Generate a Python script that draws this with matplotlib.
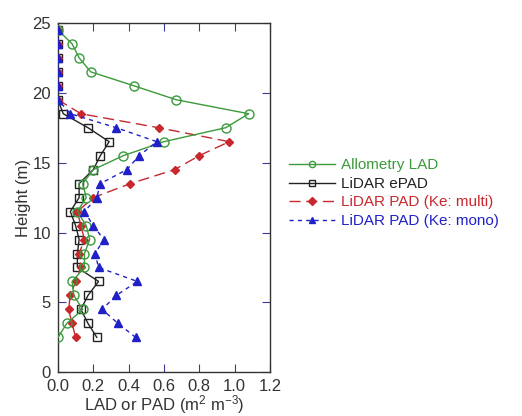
import matplotlib.pyplot as plt
import numpy as np

plt.rcParams['font.family'] = ['Liberation Sans', 'DejaVu Sans']
plt.rcParams['mathtext.fontset'] = 'custom'
plt.rcParams['mathtext.rm'] = 'Liberation Sans'
plt.rcParams['mathtext.it'] = 'Liberation Sans:italic'

height = [2.5, 3.5, 4.5, 5.5, 6.5, 7.5, 8.5, 9.5, 10.5, 11.5, 12.5, 13.5,
          14.5, 15.5, 16.5, 17.5, 18.5, 19.5, 20.5, 21.5, 22.5, 23.5, 24.5]

allometry_lad = [0.0, 0.05, 0.14, 0.09, 0.08, 0.15, 0.15, 0.18, 0.16, 0.11, 0.16, 0.14,
                 0.20, 0.37, 0.60, 0.95, 1.08, 0.67, 0.43, 0.185, 0.12, 0.08, 0.0]
lidar_epad = [0.22, 0.17, 0.13, 0.17, 0.23, 0.11, 0.11, 0.12, 0.10, 0.07, 0.12, 0.12,
              0.20, 0.24, 0.29, 0.17, 0.03, 0.0, 0.0, 0.0, 0.0, 0.0, 0.0]
lidar_pad_multi = [0.10, 0.08, 0.06, 0.07, 0.10, 0.13, 0.12, 0.15, 0.13, 0.11, 0.20, 0.41,
                   0.66, 0.80, 0.97, 0.57, 0.13, 0.0, 0.0, 0.0, 0.0, 0.0, 0.0]
lidar_pad_mono = [0.44, 0.34, 0.25, 0.33, 0.45, 0.23, 0.21, 0.26, 0.20, 0.15, 0.22, 0.24,
                  0.39, 0.46, 0.56, 0.33, 0.07, 0.0, 0.0, 0.0, 0.0, 0.0, 0.0]

green = '#3c9a3c'
red = '#c8282d'
blue = '#2020c8'

fig = plt.figure(figsize=(5.22, 4.16), dpi=100)
ax = fig.add_axes([0.111, 0.105, 0.406, 0.84])

ax.plot(allometry_lad, height, '-', color=green, lw=1.0, marker='o', ms=6.5,
        mfc='none', mec=green, mew=1.0, label='Allometry LAD', zorder=3)
ax.plot(lidar_epad, height, '-', color='#222222', lw=1.0, marker='s', ms=6,
        mfc='none', mec='#222222', mew=1.0, label='LiDAR ePAD', zorder=2)
ax.plot(lidar_pad_multi, height, color=red, lw=1.0, dashes=(8, 4), marker='D',
        ms=4, mfc=red, mec=red, label='LiDAR PAD (Ke: multi)', zorder=2)
ax.plot(lidar_pad_mono, height, color=blue, lw=1.0, dashes=(3, 3), marker='^',
        ms=6, mfc=blue, mec=blue, label='LiDAR PAD (Ke: mono)', zorder=4)

ax.set_xlim(0, 1.2)
ax.set_ylim(0, 25)
ax.set_xticks(np.arange(0, 1.21, 0.2))
ax.set_xticklabels(['0.0', '0.2', '0.4', '0.6', '0.8', '1.0', '1.2'])
ax.set_yticks([0, 5, 10, 15, 20, 25])
ax.tick_params(direction='in', top=True, right=True, length=6, color='#3a3aa0',
               labelsize=12, labelcolor='#333333')
ax.tick_params(axis='x', pad=4.5)
ax.tick_params(axis='y', pad=5)
for s in ax.spines.values():
    s.set_color('#333333')
    s.set_linewidth(1.0)

ax.set_xlabel('LAD or PAD (m$^2$ m$^{-3}$)', fontsize=12, color='#333333', labelpad=0)
ax.set_ylabel('Height (m)', fontsize=12, color='#333333', labelpad=1)

leg = ax.legend(loc='upper left', bbox_to_anchor=(1.06, 0.63), frameon=False,
                fontsize=11, handlelength=3.0, handletextpad=0.4,
                labelspacing=0.3, borderaxespad=0)
for text, c in zip(leg.get_texts(), [green, '#222222', red, blue]):
    text.set_color(c)
for h in leg.legend_handles:
    h.set_markersize(4.5)

fig.savefig('out.png', dpi=100)
